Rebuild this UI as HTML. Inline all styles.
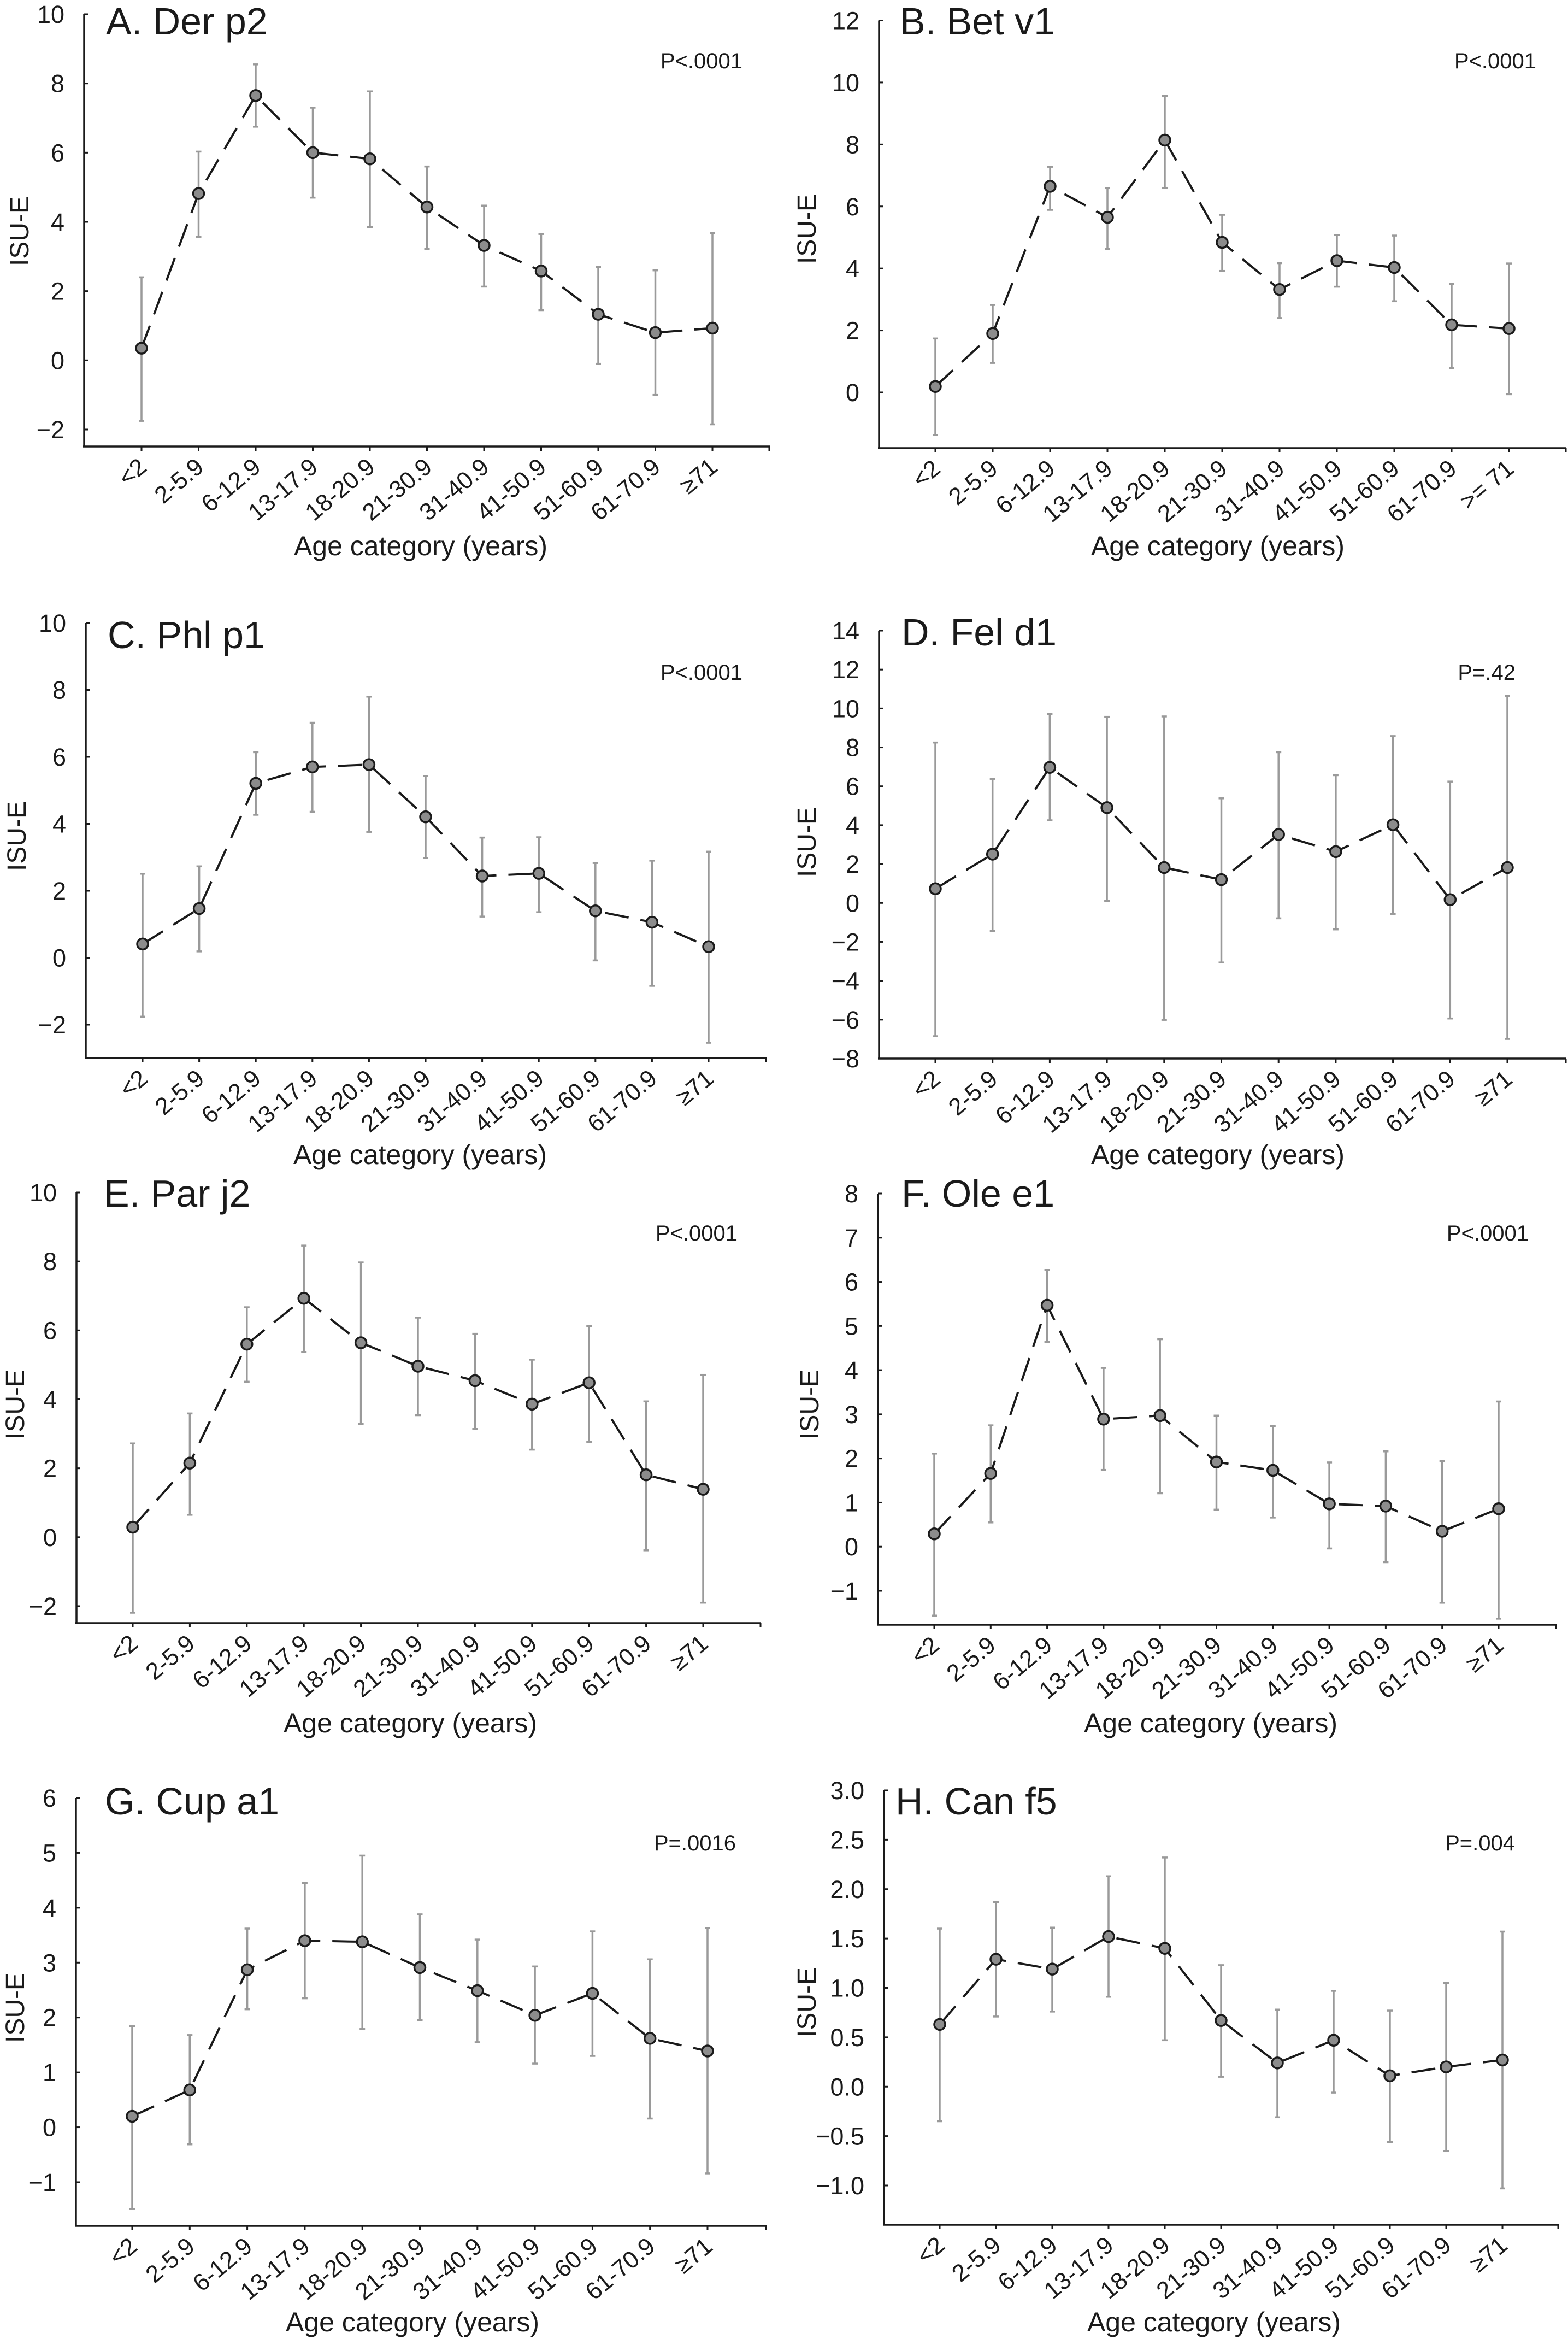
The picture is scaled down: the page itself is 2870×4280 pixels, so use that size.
<!DOCTYPE html>
<html><head><meta charset="utf-8"><style>
html,body{margin:0;padding:0;background:#fff}
svg{display:block}
text{font-family:"Liberation Sans",Arial,sans-serif;fill:#1a1a1a}
</style></head><body>
<svg id="fig" width="2870" height="4280" viewBox="0 0 2870 4280" xmlns="http://www.w3.org/2000/svg"></svg>
<script>
const categories = ["<2","2-5.9","6-12.9","13-17.9","18-20.9","21-30.9","31-40.9","41-50.9","51-60.9","61-70.9","≥71"];
const categoriesB = ["<2","2-5.9","6-12.9","13-17.9","18-20.9","21-30.9","31-40.9","41-50.9","51-60.9","61-70.9",">= 71"];

const meanA = [0.35,4.82,7.65,6.0,5.82,4.43,3.32,2.58,1.33,0.8,0.93];
const loA   = [-1.75,3.57,6.75,4.7,3.85,3.22,2.13,1.45,-0.1,-1.0,-1.85];
const hiA   = [2.4,6.03,8.55,7.3,7.77,5.6,4.47,3.65,2.7,2.6,3.68];
const ticksA = [-2,0,2,4,6,8,10];

const meanB = [0.19,1.9,6.65,5.65,8.14,4.84,3.32,4.25,4.03,2.18,2.06];
const loB   = [-1.38,0.95,5.89,4.63,6.6,3.92,2.4,3.41,2.94,0.78,-0.06];
const hiB   = [1.74,2.82,7.28,6.59,9.57,5.73,4.17,5.08,5.06,3.5,4.16];
const ticksB = [0,2,4,6,8,10,12];

const meanC = [0.41,1.47,5.21,5.7,5.77,4.21,2.44,2.52,1.4,1.06,0.33];
const loC   = [-1.76,0.19,4.27,4.36,3.76,2.98,1.23,1.36,-0.08,-0.84,-2.54];
const hiC   = [2.51,2.73,6.14,7.02,7.8,5.43,3.59,3.6,2.83,2.9,3.17];
const ticksC = [-2,0,2,4,6,8,10];

const meanD = [0.73,2.51,6.97,4.9,1.82,1.2,3.52,2.64,4.02,0.17,1.82];
const loD   = [-6.85,-1.44,4.25,0.1,-6.01,-3.06,-0.79,-1.36,-0.56,-5.94,-6.99];
const hiD   = [8.25,6.38,9.71,9.57,9.59,5.38,7.75,6.57,8.58,6.24,10.65];
const ticksD = [-8,-6,-4,-2,0,2,4,6,8,10,12,14];

const meanE = [0.29,2.15,5.6,6.93,5.64,4.96,4.54,3.86,4.48,1.81,1.39];
const loE   = [-2.19,0.65,4.51,5.37,3.29,3.54,3.14,2.54,2.76,-0.38,-1.9];
const hiE   = [2.72,3.59,6.67,8.46,7.97,6.37,5.9,5.15,6.12,3.94,4.71];
const ticksE = [-2,0,2,4,6,8,10];

const meanF = [0.29,1.66,5.47,2.89,2.97,1.92,1.73,0.97,0.92,0.35,0.86];
const loF   = [-1.56,0.55,4.64,1.74,1.21,0.84,0.66,-0.04,-0.35,-1.27,-1.63];
const hiF   = [2.11,2.75,6.27,4.05,4.7,2.97,2.73,1.91,2.16,1.94,3.29];
const ticksF = [-1,0,1,2,3,4,5,6,7,8];

const meanG = [0.2,0.68,2.87,3.4,3.38,2.91,2.49,2.04,2.44,1.62,1.39];
const loG   = [-1.49,-0.31,2.15,2.35,1.79,1.95,1.55,1.16,1.3,0.16,-0.84];
const hiG   = [1.84,1.68,3.62,4.45,4.95,3.88,3.42,2.93,3.57,3.06,3.63];
const ticksG = [-1,0,1,2,3,4,5,6];

const meanH = [0.63,1.29,1.19,1.52,1.4,0.67,0.24,0.47,0.11,0.2,0.27];
const loH   = [-0.35,0.71,0.76,0.91,0.47,0.1,-0.31,-0.06,-0.56,-0.65,-1.03];
const hiH   = [1.6,1.87,1.61,2.13,2.32,1.23,0.78,0.97,0.77,1.05,1.57];
const ticksH = [-1.0,-0.5,0.0,0.5,1.0,1.5,2.0,2.5,3.0];

const NS = "http://www.w3.org/2000/svg";
const svg = document.getElementById('fig');
function mk(tag, attrs, parent){
  const e = document.createElementNS(NS, tag);
  for (const k in attrs) e.setAttribute(k, attrs[k]);
  (parent||svg).appendChild(e);
  return e;
}

const panels = [
 {id:"a",title:"A. Der p2",p:"P<.0001",mean:meanA,lo:loA,hi:hiA,ticks:ticksA,cats:categories,dec:0,
  ax:154,xe:1409,c0:259,c10:1304,tv:10,tp:26,bv:-2,bp:786,ay:817,tx:194,ty:63,px:1359,py:125,lx:770,ly:1016,yx:35,yy:423},
 {id:"b",title:"B. Bet v1",p:"P<.0001",mean:meanB,lo:loB,hi:hiB,ticks:ticksB,cats:categoriesB,dec:0,
  ax:1609,xe:2867,c0:1712,c10:2762,tv:12,tp:37.5,bv:0,bp:718,ay:820,tx:1647,ty:63,px:2812,py:125,lx:2229,ly:1016,yx:1476,yy:419},
 {id:"c",title:"C. Phl p1",p:"P<.0001",mean:meanC,lo:loC,hi:hiC,ticks:ticksC,cats:categories,dec:0,
  ax:157,xe:1403,c0:261,c10:1297,tv:10,tp:1140,bv:-2,bp:1875,ay:1936,tx:197,ty:1186,px:1359,py:1244,lx:769,ly:2130,yx:30,yy:1530},
 {id:"d",title:"D. Fel d1",p:"P=.42",mean:meanD,lo:loD,hi:hiD,ticks:ticksD,cats:categories,dec:0,
  ax:1609,xe:2867,c0:1712,c10:2759,tv:14,tp:1154,bv:-8,bp:1937,ay:1937,tx:1650,ty:1181,px:2774,py:1244,lx:2229,ly:2130,yx:1476,yy:1541},
 {id:"e",title:"E. Par j2",p:"P<.0001",mean:meanE,lo:loE,hi:hiE,ticks:ticksE,cats:categories,dec:0,
  ax:140,xe:1393,c0:243,c10:1287,tv:10,tp:2182,bv:-2,bp:2939,ay:2970,tx:190,ty:2208,px:1350,py:2270,lx:751,ly:3170,yx:27,yy:2570},
 {id:"f",title:"F. Ole e1",p:"P<.0001",mean:meanF,lo:loF,hi:hiF,ticks:ticksF,cats:categories,dec:0,
  ax:1607,xe:2849,c0:1710,c10:2743,tv:8,tp:2184,bv:-1,bp:2911,ay:2973,tx:1650,ty:2208,px:2798,py:2270,lx:2216,ly:3170,yx:1481,yy:2570},
 {id:"g",title:"G. Cup a1",p:"P=.0016",mean:meanG,lo:loG,hi:hiG,ticks:ticksG,cats:categories,dec:0,
  ax:139,xe:1403,c0:242,c10:1295,tv:6,tp:3290,bv:-1,bp:3993,ay:4073,tx:192,ty:3320,px:1347,py:3386,lx:755,ly:4266,yx:27,yy:3674},
 {id:"h",title:"H. Can f5",p:"P=.004",mean:meanH,lo:loH,hi:hiH,ticks:ticksH,cats:categories,dec:1,
  ax:1618,xe:2853,c0:1720,c10:2750,tv:3,tp:3276,bv:-1,bp:3999,ay:4071,tx:1639,ty:3320,px:2773,py:3386,lx:2222,ly:4266,yx:1476,yy:3664}
];

function fmt(v, dec){ const s = Math.abs(v).toFixed(dec); return (v < 0 ? "\u2212" : "") + s; }

panels.forEach(P => {
  const g = mk('g', {});
  
  
  const y = v => P.bp + (v - P.bv) * (P.tp - P.bp) / (P.tv - P.bv);
  const x = i => P.c0 + i * (P.c10 - P.c0) / (P.mean.length - 1);

  const yaxis = mk('line', {x1:P.ax, y1:P.tp, x2:P.ax, y2:P.ay, stroke:'#1a1a1a','stroke-width':3.5}, g);
  
  
  const xaxis = mk('line', {x1:P.ax-2, y1:P.ay, x2:P.xe, y2:P.ay, stroke:'#1a1a1a','stroke-width':3.5}, g);
  
  
  mk('line', {x1:P.xe-1, y1:P.ay, x2:P.xe-1, y2:P.ay+8, stroke:'#1a1a1a','stroke-width':3}, g);

  P.ticks.forEach(t => {
    const ty = y(t);
    mk('line', {x1:P.ax, y1:ty, x2:P.ax+7, y2:ty, stroke:'#1a1a1a','stroke-width':3}, g);
    const lab = mk('text', {x:P.ax-36, y:ty+16, 'text-anchor':'end','font-size':45}, g);
    lab.textContent = fmt(t, P.dec);
    
    
  });

  P.cats.forEach((c, i) => {
    const cx = x(i);
    mk('line', {x1:cx, y1:P.ay, x2:cx, y2:P.ay+8, stroke:'#1a1a1a','stroke-width':3}, g);
    const lx = cx + 12, ly = P.ay + 42;
    const lab = mk('text', {x:lx, y:ly, 'text-anchor':'end','font-size':44, transform:`rotate(-40 ${lx} ${ly})`}, g);
    lab.textContent = c;
    
    
  });

  P.mean.forEach((m, i) => {
    const cx = x(i);
    const eb = mk('g', {stroke:'#9a9a9a','stroke-width':3.5}, g);
    
    
    mk('line', {x1:cx, y1:y(P.lo[i]), x2:cx, y2:y(P.hi[i])}, eb);
    mk('line', {x1:cx-5, y1:y(P.lo[i]), x2:cx+5, y2:y(P.lo[i])}, eb);
    mk('line', {x1:cx-5, y1:y(P.hi[i]), x2:cx+5, y2:y(P.hi[i])}, eb);
  });

  const pts = P.mean.map((m, i) => x(i).toFixed(1) + ',' + y(m).toFixed(1)).join(' ');
  const line = mk('polyline', {points:pts, fill:'none', stroke:'#1a1a1a','stroke-width':4,'stroke-dasharray':'44 22'}, g);
  
  

  P.mean.forEach((m, i) => {
    const c = mk('circle', {cx:x(i), cy:y(m), r:10, fill:'#8c8c8c', stroke:'#1a1a1a','stroke-width':3.5}, g);
    
    
  });

  const title = mk('text', {x:P.tx, y:P.ty, 'font-size':70}, g);
  title.textContent = P.title;
  
  

  const pv = mk('text', {x:P.px, y:P.py, 'text-anchor':'end','font-size':40}, g);
  pv.textContent = P.p;
  
  

  const xl = mk('text', {x:P.lx, y:P.ly, 'text-anchor':'middle','font-size':50}, g);
  xl.textContent = "Age category (years)";
  
  

  const yl = mk('text', {x:P.yx+17, y:P.yy, 'text-anchor':'middle','font-size':48, transform:`rotate(-90 ${P.yx+17} ${P.yy})`}, g);
  yl.textContent = "ISU-E";
  
  
});
</script>
</body></html>
